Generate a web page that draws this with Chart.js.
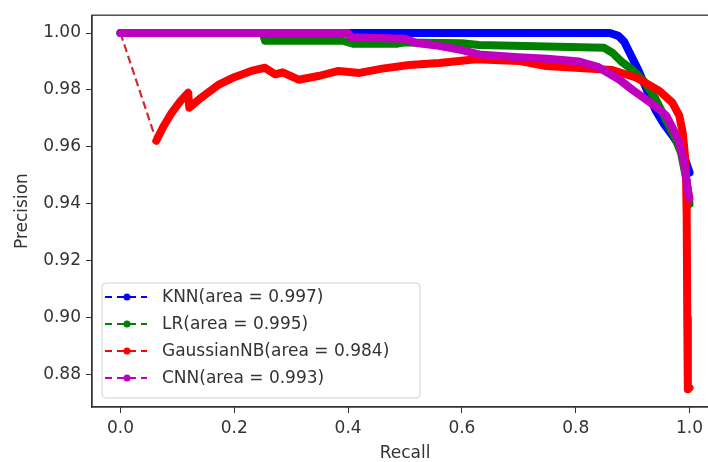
<!DOCTYPE html>
<html>
<head>
<meta charset="utf-8">
<script src="https://cdn.jsdelivr.net/npm/chart.js@4/dist/chart.umd.min.js"></script>
<style>
  html, body { margin: 0; padding: 0; background: #fff; overflow: hidden; }
</style>
</head>
<body>
<canvas id="prChart" width="725" height="462"></canvas>
<script>
// tick labels
const xTicks = [0.0, 0.2, 0.4, 0.6, 0.8, 1.0];
const yTicks = [0.88, 0.90, 0.92, 0.94, 0.96, 0.98, 1.00];

// KNN
const knnRecall = [0, 0.40, 0.86, 0.875, 0.885, 0.895, 0.91, 0.925, 0.94, 0.955, 0.97, 0.98, 0.99, 0.995, 1.0];
const knnPrec   = [1.0, 1.0, 1.0, 0.999, 0.997, 0.993, 0.987, 0.980, 0.973, 0.968, 0.964, 0.961, 0.957, 0.954, 0.951];

// LR
const lrRecall = [0, 0.25, 0.254, 0.39, 0.41, 0.485, 0.50, 0.60, 0.63, 0.75, 0.85, 0.865, 0.88, 0.90, 0.92, 0.94, 0.96, 0.975, 0.985, 0.995, 1.0];
const lrPrec   = [1.0, 1.0, 0.9973, 0.9973, 0.9962, 0.9962, 0.9967, 0.9964, 0.9958, 0.9953, 0.9948, 0.993, 0.990, 0.987, 0.983, 0.977, 0.969, 0.963, 0.958, 0.948, 0.940];

// GaussianNB
const nbRecall = [0, 0.063, 0.075, 0.09, 0.105, 0.119, 0.121, 0.14, 0.172, 0.20, 0.23, 0.254, 0.272, 0.285, 0.313, 0.35, 0.383, 0.42, 0.46, 0.507, 0.56, 0.625, 0.70, 0.748, 0.80, 0.864, 0.907, 0.947, 0.97, 0.982, 0.988, 0.992, 0.994, 0.995, 0.996, 0.997, 1.0];
const nbPrec   = [1.0, 0.9622, 0.967, 0.972, 0.976, 0.979, 0.9738, 0.977, 0.9818, 0.9845, 0.9867, 0.9878, 0.9855, 0.9862, 0.9836, 0.985, 0.9867, 0.986, 0.9875, 0.9888, 0.9895, 0.9908, 0.9902, 0.9884, 0.9878, 0.987, 0.9843, 0.9797, 0.9755, 0.971, 0.965, 0.957, 0.948, 0.935, 0.90, 0.875, 0.8755];

// CNN
const cnnRecall = [0, 0.40, 0.405, 0.50, 0.52, 0.56, 0.60, 0.63, 0.70, 0.75, 0.806, 0.84, 0.877, 0.90, 0.924, 0.945, 0.959, 0.972, 0.982, 0.99, 0.997, 1.0];
const cnnPrec   = [1.0, 1.0, 0.9985, 0.998, 0.9965, 0.9955, 0.994, 0.9925, 0.9915, 0.991, 0.990, 0.988, 0.9836, 0.980, 0.9766, 0.9735, 0.971, 0.966, 0.9615, 0.955, 0.945, 0.942];

const labels = ["KNN(area = 0.997)", "LR(area = 0.995)", "GaussianNB(area = 0.984)", "CNN(area = 0.993)"];
const colors = ["#0000ff", "#008000", "#ff0000", "#bf00bf"];

function pts(xs, ys) {
  return xs.map((x, i) => ({ x: x, y: ys[i] }));
}

const series = [
  pts(knnRecall, knnPrec),
  pts(lrRecall, lrPrec),
  pts(nbRecall, nbPrec),
  pts(cnnRecall, cnnPrec)
];

const datasets = series.map((d, i) => ({
  label: labels[i],
  data: i === 2 ? d.slice(1) : d,
  borderColor: colors[i],
  backgroundColor: colors[i],
  borderWidth: 8,
  borderCapStyle: "round",
  borderJoinStyle: "round",
  pointRadius: 0,
  tension: 0,
  order: 4 - i
}));

// thin dashed jump at the start of the GaussianNB curve
datasets.push({
  label: "",
  data: series[2].slice(0, 2),
  borderColor: "#d9262e",
  borderWidth: 2.2,
  borderDash: [8, 4],
  pointRadius: 0,
  order: 2
});

const font = "DejaVu Sans";
const textColor = "#333";

// matplotlib-like frame and legend box
const framePlugin = {
  id: "frame",
  afterDatasetsDraw(chart) {
    const c = chart.ctx, a = chart.chartArea;
    c.save();
    c.strokeStyle = "#333";
    c.lineWidth = 1.3;
    c.strokeRect(a.left, a.top, a.right - a.left, a.bottom - a.top);

    // legend
    const bx = a.left + 10, by = 283, bw = 318, bh = 115;
    c.fillStyle = "rgba(255,255,255,0.85)";
    c.strokeStyle = "#d0d0d0";
    c.lineWidth = 1;
    c.beginPath();
    c.roundRect(bx, by, bw, bh, 4);
    c.fill();
    c.stroke();
    c.font = "17px '" + font + "'";
    c.textBaseline = "middle";
    labels.forEach((lab, i) => {
      const y = 297 + i * 27;
      c.strokeStyle = colors[i];
      c.lineWidth = 2;
      c.setLineDash([7, 5]);
      c.beginPath();
      c.moveTo(bx + 3, y);
      c.lineTo(bx + 45, y);
      c.stroke();
      c.setLineDash([]);
      c.fillStyle = colors[i];
      c.beginPath();
      c.arc(bx + 25, y, 3.5, 0, Math.PI * 2);
      c.fill();
      c.fillStyle = textColor;
      c.fillText(lab, bx + 60, y + 1);
    });
    c.restore();
  }
};

new Chart(document.getElementById("prChart"), {
  type: "line",
  data: { datasets: datasets },
  plugins: [framePlugin],
  options: {
    responsive: false,
    devicePixelRatio: 1,
    animation: false,
    layout: { padding: { top: 12, right: 7, left: 0, bottom: 0 } },
    plugins: { legend: { display: false }, tooltip: { enabled: false } },
    scales: {
      x: {
        type: "linear",
        min: -0.05,
        max: 1.05,
        afterFit: s => { s.height = 55; },
        afterBuildTicks: s => { s.ticks = xTicks.map(v => ({ value: v })); },
        grid: { drawOnChartArea: false, drawTicks: true, tickLength: 6, color: "#333" },
        border: { color: "#333", width: 1.3 },
        ticks: {
          color: textColor,
          font: { family: font, size: 17 },
          padding: 5,
          maxRotation: 0,
          callback: v => v.toFixed(1)
        },
        title: {
          display: true,
          text: "Recall",
          color: textColor,
          font: { family: font, size: 17 },
          padding: { top: 0, bottom: -2 }
        }
      },
      y: {
        type: "linear",
        min: 0.86875,
        max: 1.00625,
        afterFit: s => { s.width = 92; },
        afterBuildTicks: s => { s.ticks = yTicks.map(v => ({ value: v })); },
        grid: { drawOnChartArea: false, drawTicks: true, tickLength: 6, color: "#333" },
        border: { color: "#333", width: 1.3 },
        ticks: {
          color: textColor,
          font: { family: font, size: 17 },
          padding: 5,
          callback: v => v.toFixed(2)
        },
        title: {
          display: true,
          text: "Precision",
          color: textColor,
          font: { family: font, size: 17 },
          padding: { top: 12, bottom: 0 }
        }
      }
    }
  }
});
</script>
</body>
</html>
